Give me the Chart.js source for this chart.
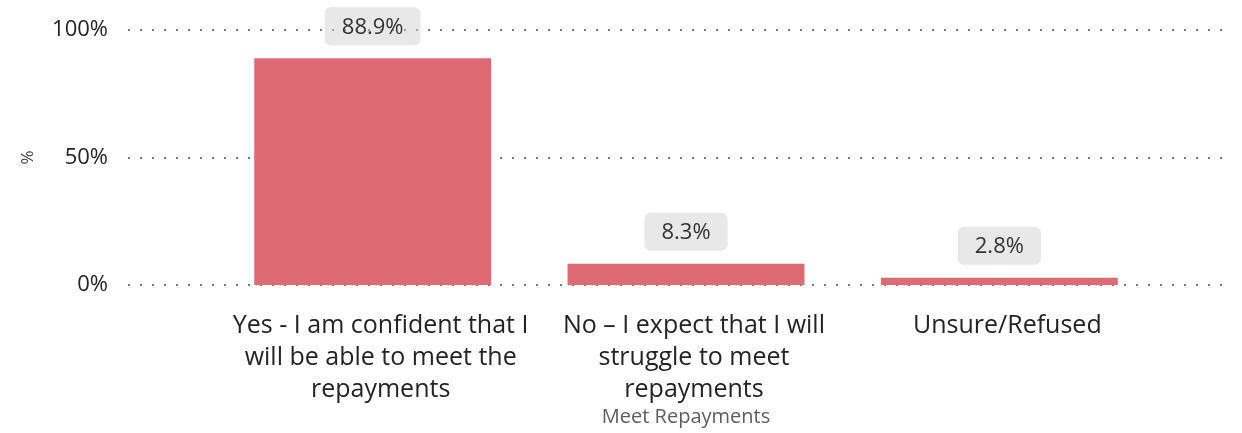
<!DOCTYPE html>
<html>
<head>
<meta charset="utf-8">
<script src="https://cdn.jsdelivr.net/npm/chart.js@4/dist/chart.umd.min.js"></script>
<style>
	html, body { margin: 0; padding: 0; background: #fff; }
	#wrap { width: 1242px; height: 433px; }
</style>
</head>
<body>
<div id="wrap"><canvas id="chart"></canvas></div>
<script>
const categories = [
	['Yes - I am confident that I', 'will be able to meet the', 'repayments'],
	['No – I expect that I will', 'struggle to meet', 'repayments'],
	['Unsure/Refused']
];
const values = [88.9, 8.3, 2.8];
const yTicks = [0, 50, 100];

const FONT = "'Open Sans', 'Noto Sans', sans-serif";

// dotted horizontal guides, running a little past the bar area on both sides
const dottedGrid = {
	id: 'dottedGrid',
	beforeDatasetsDraw (chart) {
		const { ctx, chartArea, scales } = chart;
		ctx.save();
		ctx.strokeStyle = '#7a7a7a';
		ctx.lineWidth = 2;
		ctx.setLineDash([2, 10]);
		yTicks.forEach(v => {
			const y = Math.round(scales.y.getPixelForValue(v));
			ctx.beginPath();
			ctx.moveTo(chartArea.left - 88, y);
			ctx.lineTo(chartArea.right + 76, y);
			ctx.stroke();
		});
		ctx.restore();
	}
};

// value badges above each bar
const valueBadges = {
	id: 'valueBadges',
	afterDatasetsDraw (chart) {
		const { ctx } = chart;
		const meta = chart.getDatasetMeta(0);
		ctx.save();
		ctx.font = '22px ' + FONT;
		ctx.textAlign = 'center';
		ctx.textBaseline = 'middle';
		meta.data.forEach((bar, i) => {
			const text = values[i].toFixed(1) + '%';
			const w = ctx.measureText(text).width + 34;
			const h = 38;
			const x = bar.x - w / 2;
			const y = bar.y - 13 - h;
			ctx.fillStyle = 'rgba(205,205,205,0.45)';
			ctx.beginPath();
			ctx.roundRect(x, y, w, h, 6);
			ctx.fill();
			ctx.fillStyle = '#333333';
			ctx.fillText(text, bar.x, y + h / 2 + 1);
		});
		ctx.restore();
	}
};

new Chart(document.getElementById('chart'), {
	type: 'bar',
	data: {
		labels: categories,
		datasets: [{
			data: values,
			backgroundColor: '#de6a73',
			barPercentage: 0.756,
			categoryPercentage: 1
		}]
	},
	options: {
		responsive: true,
		maintainAspectRatio: false,
		animation: false,
		layout: { padding: { top: 30, right: 86, bottom: 4, left: 0 } },
		plugins: {
			legend: { display: false },
			tooltip: { enabled: false }
		},
		scales: {
			x: {
				offset: true,
				grid: { display: false, drawTicks: false },
				border: { display: false },
				afterFit (scale) { scale.height = 144; },
				ticks: {
					padding: 25,
					labelOffset: 8,
					color: '#252423',
					font: { family: FONT, size: 25, lineHeight: 1.28 },
					maxRotation: 0,
					autoSkip: false
				},
				title: {
					display: true,
					text: 'Meet Repayments',
					color: '#605e5c',
					font: { family: FONT, size: 20 },
					padding: { top: 0, bottom: 0 }
				}
			},
			y: {
				min: 0,
				max: 100,
				grid: { display: false, drawTicks: false },
				border: { display: false },
				afterFit (scale) {
					scale.width = 216;
					scale.paddingTop = 0;
					scale.paddingBottom = 0;
				},
				afterBuildTicks (scale) { scale.ticks = yTicks.map(v => ({ value: v })); },
				ticks: {
					padding: 108,
					color: '#252423',
					font: { family: FONT, size: 22 },
					callback: v => v + '%'
				},
				title: {
					display: true,
					text: '%',
					color: '#444444',
					font: { family: FONT, size: 17 },
					padding: { top: 18, bottom: 0 }
				}
			}
		}
	},
	plugins: [dottedGrid, valueBadges]
});
</script>
</body>
</html>
